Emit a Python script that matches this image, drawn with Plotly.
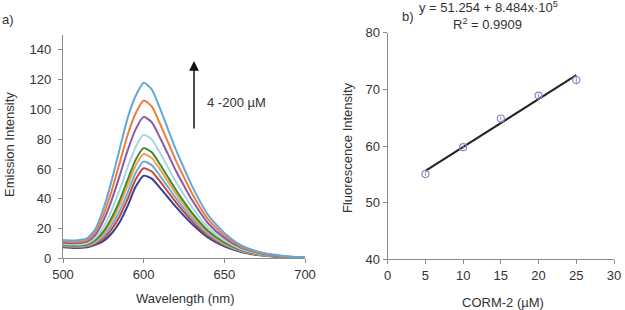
import numpy as np
import plotly.graph_objects as go

# ---------------- Panel a: emission spectra ----------------
wavelength = [500, 515, 530, 540, 550, 560, 570, 580, 590, 600, 605, 610, 615,
              620, 625, 630, 640, 650, 660, 670, 680, 690, 700]
# axis tick labels (unevenly spaced wavelengths at evenly spaced ticks)
x_tick_labels = [500, 600, 650, 700]

spec_1 = [12.3, 12.0, 13.5, 19.5, 33.0, 51.5, 73.0, 94.0, 109.0, 118.0, 113.5, 101.0, 87.0,
          73.0, 60.5, 48.5, 29.0, 17.0, 9.0, 4.8, 2.5, 1.2, 0.7]
spec_2 = [11.4, 11.0, 12.3, 17.5, 28.9, 44.8, 63.6, 82.7, 97.3, 106.0, 102.0, 90.7, 78.2,
          65.6, 54.4, 43.6, 26.1, 15.3, 8.1, 4.3, 2.3, 1.1, 0.6]
spec_3 = [10.5, 10.2, 11.3, 15.6, 25.1, 38.6, 55.0, 72.3, 86.6, 95.0, 91.4, 81.3, 70.1,
          58.8, 48.7, 39.1, 23.4, 13.7, 7.3, 3.9, 2.0, 1.0, 0.55]
spec_4 = [9.6, 9.2, 10.1, 13.6, 21.0, 31.9, 45.6, 61.0, 74.8, 83.0, 79.9, 71.0, 61.2,
          51.4, 42.6, 34.2, 20.5, 12.0, 6.4, 3.4, 1.8, 0.9, 0.5]
spec_5 = [8.9, 8.5, 9.3, 12.1, 17.9, 26.9, 38.5, 52.5, 66.1, 74.0, 71.3, 63.3, 54.6,
          45.9, 38.0, 30.5, 18.3, 10.7, 5.7, 3.0, 1.6, 0.8, 0.4]
spec_6 = [8.6, 8.2, 8.9, 11.4, 16.5, 24.6, 35.4, 48.7, 62.2, 70.0, 67.4, 59.9, 51.7,
          43.4, 35.9, 28.9, 17.3, 10.1, 5.4, 2.9, 1.5, 0.7, 0.4]
spec_7 = [8.2, 7.8, 8.4, 10.6, 14.8, 21.8, 31.4, 44.0, 57.3, 65.0, 62.6, 55.6, 48.0,
          40.4, 33.4, 26.9, 16.1, 9.4, 5.0, 2.7, 1.4, 0.7, 0.35]
spec_8 = [7.9, 7.4, 8.0, 9.8, 13.2, 19.3, 27.9, 39.7, 52.9, 60.5, 58.3, 51.8, 44.7,
          37.6, 31.1, 25.0, 15.0, 8.7, 4.7, 2.5, 1.3, 0.65, 0.33]
spec_9 = [7.5, 7.0, 7.5, 9.0, 11.5, 16.5, 24.0, 35.0, 48.0, 55.5, 53.5, 47.5, 41.0,
          34.5, 28.5, 23.0, 13.8, 8.0, 4.3, 2.3, 1.2, 0.6, 0.3]

spectra = [spec_1, spec_2, spec_3, spec_4, spec_5, spec_6, spec_7, spec_8, spec_9]
spec_colors = ["#64a8d8", "#ef7d3a", "#8a5aa6", "#a9d6df", "#3f8a30",
               "#f4a04c", "#6aaed8", "#c4483a", "#383e96"]

# ---------------- Panel b: calibration ----------------
corm_conc = [5, 10, 15, 20, 25]
fluor_int = [55.05, 59.8, 64.85, 68.9, 71.65]
fluor_err = [0.3, 0.3, 0.35, 0.35, 0.8]
fit_x = [5, 25]
fit_y = [55.6, 72.5]

fig = go.Figure()

# map labelled wavelengths onto the evenly spaced tick positions of the axis
tick_pos = list(range(len(x_tick_labels)))
x_pos = np.interp(wavelength, x_tick_labels, tick_pos)

for s, c in zip(spectra[::-1], spec_colors[::-1]):
    fig.add_trace(go.Scatter(x=x_pos, y=s, mode="lines",
                             line=dict(color=c, width=2, shape="spline", smoothing=0.6),
                             xaxis="x", yaxis="y", showlegend=False, hoverinfo="skip"))

fig.add_trace(go.Scatter(x=fit_x, y=fit_y, mode="lines",
                         line=dict(color="#222222", width=2),
                         xaxis="x2", yaxis="y2", showlegend=False))
fig.add_trace(go.Scatter(x=corm_conc, y=fluor_int, mode="markers",
                         marker=dict(symbol="circle-open", size=7, color="#9a80c6",
                                     line=dict(width=1.2, color="#9a80c6")),
                         error_y=dict(type="data", array=fluor_err, color="#9a80c6",
                                      thickness=1, width=0),
                         xaxis="x2", yaxis="y2", showlegend=False))

H = 310.0
W = 625.0
axis_common = dict(showgrid=False, zeroline=False, showline=True, linecolor="#8a8a8a",
                   linewidth=1.2, ticks="outside", ticklen=4, tickcolor="#8a8a8a",
                   automargin=False,
                   tickfont=dict(family="Liberation Sans, Arial", size=13, color="#333333"))

fig.update_layout(
    width=625, height=310,
    margin=dict(l=0, r=0, t=0, b=0, pad=0, autoexpand=False),
    paper_bgcolor="white", plot_bgcolor="white",
    xaxis=dict(domain=[63 / W, 305 / W], range=[0, 3], tickvals=tick_pos,
               ticktext=[str(v) for v in x_tick_labels], anchor="y", **axis_common),
    yaxis=dict(domain=[(H - 258.3) / H, (H - 35) / H], range=[0, 150],
               tickvals=list(range(0, 141, 20)), anchor="x", ticklabelstandoff=4,
               **axis_common),
    xaxis2=dict(domain=[387.7 / W, 614 / W], range=[0, 30], dtick=5, anchor="y2",
                **axis_common),
    yaxis2=dict(domain=[(H - 259.3) / H, (H - 32.7) / H], range=[40, 80], dtick=10,
                anchor="x2", **axis_common),
)

font = dict(family="Liberation Sans, Arial", size=13, color="#333333")
ann = [
    dict(text="a)", x=0 / W, y=1 - 20 / H, xanchor="left", yanchor="middle", font=font),
    dict(text="b)", x=400 / W, y=1 - 16 / H, xanchor="left", yanchor="middle", font=font),
    dict(text="y = 51.254 + 8.484x·10<sup>5</sup>", x=488 / W, y=1 - 7 / H,
         xanchor="center", yanchor="middle", font=font),
    dict(text="R<sup>2</sup> = 0.9909", x=487 / W, y=1 - 24 / H,
         xanchor="center", yanchor="middle", font=font),
    dict(text="Emission Intensity", x=9 / W, y=1 - 145 / H, textangle=-90,
         xanchor="center", yanchor="middle", font=font),
    dict(text="Wavelength (nm)", x=186 / W, y=1 - 298 / H,
         xanchor="center", yanchor="middle", font=font),
    dict(text="Fluorescence Intensity", x=347 / W, y=1 - 148 / H, textangle=-90,
         xanchor="center", yanchor="middle", font=font),
    dict(text="CORM-2 (µM)", x=503 / W, y=1 - 302 / H,
         xanchor="center", yanchor="middle", font=font),
    dict(text="4 -200 µM", x=205 / W, y=1 - 102 / H,
         xanchor="left", yanchor="middle", font=font),
]
for a in ann:
    a.update(xref="paper", yref="paper", showarrow=False)
    fig.add_annotation(**a)

fig.add_annotation(x=194 / W, y=1 - 61 / H, ax=0, ay=69,
                   xref="paper", yref="paper", axref="pixel", ayref="pixel",
                   showarrow=True, arrowhead=2, arrowsize=1.3, arrowwidth=1.5,
                   arrowcolor="#111111", text="")

fig.write_html("out.html", config={"displayModeBar": False},
               post_script="document.body.style.margin='0';document.body.style.overflow='hidden';")
